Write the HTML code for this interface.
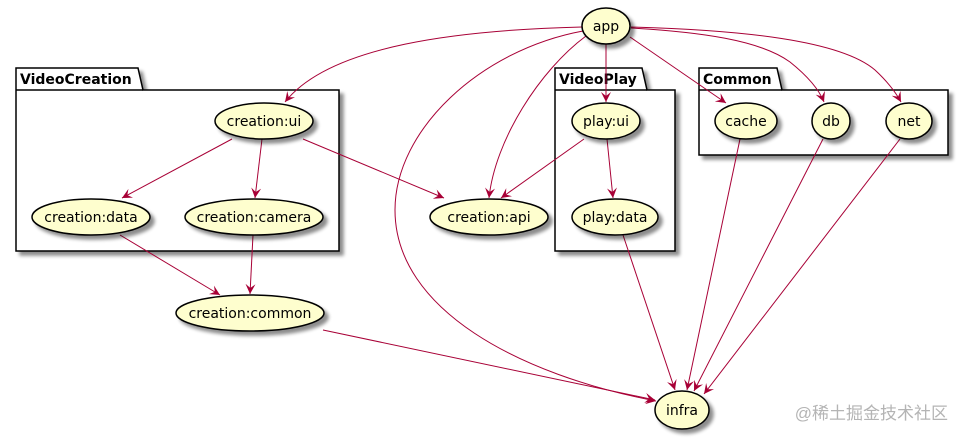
<!DOCTYPE html>
<html><head><meta charset="utf-8"><style>
html,body{margin:0;padding:0;background:#fff;}
svg{display:block;}
text{font-family:"DejaVu Sans","Liberation Sans",sans-serif;}
</style></head><body>
<svg width="964" height="438" viewBox="0 0 964 438" xmlns="http://www.w3.org/2000/svg">
<defs>
<filter id="sh" x="-20%" y="-20%" width="150%" height="160%">
<feGaussianBlur in="SourceAlpha" stdDeviation="1.8"/>
<feOffset dx="4" dy="4" result="b"/>
<feComponentTransfer><feFuncA type="linear" slope="0.45"/></feComponentTransfer>
<feMerge><feMergeNode/><feMergeNode in="SourceGraphic"/></feMerge>
</filter>
<marker id="ar" viewBox="0 0 10 10" refX="10" refY="5" markerWidth="10" markerHeight="10" markerUnits="userSpaceOnUse" orient="auto">
<path d="M0,0 L10,5 L0,10 L4,5 z" fill="#A80036"/>
</marker>
</defs>

<!-- packages -->
<g filter="url(#sh)" fill="#fff" stroke="#000" stroke-width="1.5">
<path d="M16,90 L16,68 L138,68 L143,90 L339,90 L339,251 L16,251 Z"/>
<path d="M555,90 L555,68 L642,68 L647,90 L675,90 L675,251 L555,251 Z"/>
<path d="M699,90 L699,68 L777,68 L782,90 L948,90 L948,155 L699,155 Z"/>
</g>
<g stroke="#000" stroke-width="1.5"><line x1="16" y1="90" x2="143" y2="90"/><line x1="555" y1="90" x2="647" y2="90"/><line x1="699" y1="90" x2="782" y2="90"/></g>
<g font-weight="bold" font-size="14" fill="#000">
<text x="20" y="84">VideoCreation</text>
<text x="559" y="84">VideoPlay</text>
<text x="703" y="84">Common</text>
</g>

<!-- edges -->
<g fill="none" stroke="#A80036" stroke-width="1" marker-end="url(#ar)">
<path d="M582,27 C460,30 330,45 285,102"/>
<path d="M586,36 C540,70 495,140 489,198"/>
<path d="M583,31 C480,50 395,130 395,210 C395,310 520,375 656,401"/>
<path d="M606,44 L606,102"/>
<path d="M630,37 L726,103"/>
<path d="M631,28 C700,32 760,40 790,62 C810,78 820,92 824,102"/>
<path d="M631,27 C740,30 840,40 875,70 C888,82 896,93 901,102"/>
<path d="M232,139 L122,198"/>
<path d="M262,139 L255,198"/>
<path d="M303,139 L444,198"/>
<path d="M584,139 L501,198"/>
<path d="M607,139 L613,198"/>
<path d="M120,235 L220,295"/>
<path d="M253,235 L250,294"/>
<path d="M323,330 L655,400"/>
<path d="M623,235 L675,390"/>
<path d="M740,139 L687,390"/>
<path d="M823,139 L694,391"/>
<path d="M900,139 L704,394"/>
</g>

<!-- nodes -->
<g filter="url(#sh)" fill="#FEFECE" stroke="#000" stroke-width="1.5">
<ellipse cx="606" cy="26" rx="24" ry="18"/>
<ellipse cx="264" cy="121" rx="49" ry="18"/>
<ellipse cx="91" cy="217" rx="59" ry="18"/>
<ellipse cx="254" cy="217" rx="69" ry="18"/>
<ellipse cx="489" cy="217" rx="59" ry="18"/>
<ellipse cx="250" cy="313" rx="74" ry="18"/>
<ellipse cx="606" cy="121" rx="34" ry="18"/>
<ellipse cx="615" cy="217" rx="43" ry="18"/>
<ellipse cx="746" cy="121" rx="31" ry="18"/>
<ellipse cx="831" cy="121" rx="19" ry="18"/>
<ellipse cx="909" cy="121" rx="23" ry="18"/>
<ellipse cx="682" cy="410" rx="27" ry="19"/>
</g>
<g font-size="14" fill="#000" text-anchor="middle">
<text x="606" y="31">app</text>
<text x="264" y="126">creation:ui</text>
<text x="91" y="222">creation:data</text>
<text x="254" y="222">creation:camera</text>
<text x="489" y="222">creation:api</text>
<text x="250" y="318">creation:common</text>
<text x="606" y="126">play:ui</text>
<text x="615" y="222">play:data</text>
<text x="746" y="126">cache</text>
<text x="831" y="126">db</text>
<text x="909" y="126">net</text>
<text x="682" y="415">infra</text>
</g>
<text x="948" y="419" text-anchor="end" font-size="17" fill="#b4b4b4" style='font-family:"Liberation Sans","Noto Sans CJK SC",sans-serif'>@稀土掘金技术社区</text>
</svg>
</body></html>
